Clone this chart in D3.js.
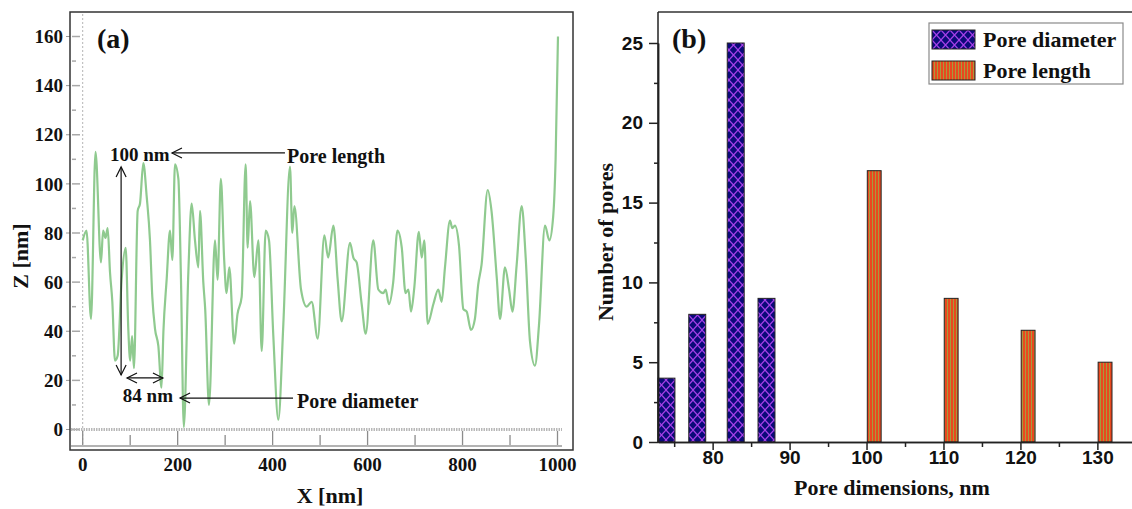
<!DOCTYPE html>
<html>
<head>
<meta charset="utf-8">
<script src="https://cdn.jsdelivr.net/npm/d3@7"></script>
<style>
  body { margin: 0; background: #fff; }
  svg { display: block; }
  text { font-family: "Liberation Serif", "Times New Roman", serif; font-weight: bold; fill: #111; }
</style>
</head>
<body>
<svg id="chart" width="1132" height="509"></svg>
<script>
// (a) AFM height profile
const profileX = [0, 8, 17.5, 27, 38.5, 43, 48, 52.6, 57.5, 62.4, 68, 73.6, 82, 90.5, 96, 100, 104, 108,
  115.8, 120.7, 127.7, 134.7, 141.7, 146.6, 152.3, 159.3, 166, 170, 176.8, 183.9, 188.8, 194.4, 201.5, 207, 213,
  222.5, 229.5, 236.5, 243.6, 247, 254, 258, 266, 278.7, 284, 291, 298, 303, 308.8, 319, 326, 334.8, 343.2,
  347.4, 352.4, 361.5, 370, 377, 385.4, 392.4, 401.5, 412, 422.6, 436.6, 441.5, 445.8, 459.8, 471.8, 482.3,
  495, 509, 517, 528, 537, 545.4, 563, 570, 577, 587.6, 596, 612, 622.6, 633, 638, 645, 654, 663, 672, 680,
  686, 691.5, 698.5, 708, 714, 719.5, 726.5, 738.5, 749, 756, 763, 773.6, 778.5, 784, 792.5, 801.7, 808.7,
  817.8, 826, 833, 840, 853, 861, 872, 879, 889.4, 898, 905, 914, 924.6, 933, 942, 952.6, 961, 973.7, 982.8,
  991, 996, 1001];
const profileZ = [77, 81, 45, 113, 68, 81, 78, 82, 64, 52, 28, 30, 61, 74, 41, 28, 38, 25,
  89, 92, 108.5, 95, 77, 54, 41, 34, 17, 40, 61, 81, 69, 108, 102, 61, 1,
  64, 92, 77, 66, 89, 60, 49, 10, 77, 61, 102, 69, 55.5, 66, 35, 47, 54, 108,
  74, 93, 62, 77, 32, 81, 77, 38, 4, 43, 107, 80, 91, 57, 50, 52,
  37, 79, 70, 83, 61, 44, 76, 70, 68, 51, 39, 77, 57, 55.5, 57, 51, 60, 81, 74, 55.5,
  57, 48, 58, 80.5, 70, 77, 43, 51, 57, 52, 66, 85, 82, 83, 75, 49, 48,
  40.5, 45, 59, 67, 97.5, 89, 62, 45, 66, 57, 48, 67, 91, 70, 36, 26, 42.5, 83, 77,
  87, 110, 160];
const zTicks = [0, 20, 40, 60, 80, 100, 120, 140, 160];
const xTicks = [0, 200, 400, 600, 800, 1000];

// (b) pore histogram
const diameterBins = [74, 78, 83, 87];
const diameterCounts = [4, 8, 25, 9];
const lengthBins = [101, 111, 121, 131];
const lengthCounts = [17, 9, 7, 5];
const countTicks = [0, 5, 10, 15, 20, 25];
const dimTicks = [80, 90, 100, 110, 120, 130];
const legendLabels = ["Pore diameter", "Pore length"];

const svg = d3.select("#chart");
const defs = svg.append("defs");

// open chevron arrow head
defs.append("marker")
    .attr("id", "chev")
    .attr("viewBox", "-12 -7 14 14")
    .attr("refX", 0).attr("refY", 0)
    .attr("markerWidth", 14).attr("markerHeight", 14)
    .attr("markerUnits", "userSpaceOnUse")
    .attr("orient", "auto-start-reverse")
    .append("path")
    .attr("d", "M-10,-5 L0,0 L-10,5")
    .attr("fill", "none")
    .attr("stroke", "#111")
    .attr("stroke-width", 1.2);

// crosshatch for diameter bars
const hatch = defs.append("pattern").attr("id", "hatch")
    .attr("patternUnits", "userSpaceOnUse").attr("width", 9).attr("height", 10);
hatch.append("rect").attr("width", 9).attr("height", 10).attr("fill", "#0b0a7a");
hatch.append("path").attr("d", "M0,0 L9,10 M9,0 L0,10")
    .attr("stroke", "#a53fe8").attr("stroke-width", 1.2);

// vertical stripes for length bars
const stripes = defs.append("pattern").attr("id", "stripes")
    .attr("patternUnits", "userSpaceOnUse").attr("width", 3).attr("height", 4);
stripes.append("rect").attr("width", 3).attr("height", 4).attr("fill", "#e9481f");
stripes.append("rect").attr("x", 2).attr("width", 1).attr("height", 4).attr("fill", "#a89a3c");

// ---------- panel (a) ----------
const a = svg.append("g");
const xA = d3.scaleLinear().domain([0, 1000]).range([82.7, 557.5]);
const zA = d3.scaleLinear().domain([0, 160]).range([429.5, 36.5]);

// dotted guide at x = 0
a.append("line")
    .attr("x1", xA(0)).attr("x2", xA(0))
    .attr("y1", 14).attr("y2", 446)
    .attr("stroke", "#b4b4b4").attr("stroke-dasharray", "2,2");

// inner z ticks
a.selectAll(".zmin").data(zA.ticks(16)).join("line")
    .attr("x1", 72).attr("x2", d => d % 20 ? 76 : 80)
    .attr("y1", d => zA(d)).attr("y2", d => zA(d))
    .attr("stroke", "#a8a8a8").attr("stroke-width", 1.5);
a.selectAll(".zout").data(zTicks).join("line")
    .attr("x1", 66).attr("x2", 70)
    .attr("y1", d => zA(d)).attr("y2", d => zA(d))
    .attr("stroke", "#999");

// z = 0 band and lower rail
a.append("line")
    .attr("x1", 71).attr("x2", 562)
    .attr("y1", zA(0)).attr("y2", zA(0))
    .attr("stroke", "#b8b8b8").attr("stroke-width", 3).attr("stroke-dasharray", "1.5,1");
a.append("line")
    .attr("x1", 71).attr("x2", 562)
    .attr("y1", 446).attr("y2", 446)
    .attr("stroke", "#9a9a9a").attr("stroke-width", 1.5);

// x ticks hanging below the band
a.selectAll(".xt").data(xA.ticks(10)).join("line")
    .attr("x1", d => xA(d)).attr("x2", d => xA(d))
    .attr("y1", d => d % 200 ? 435 : 431).attr("y2", 445)
    .attr("stroke", "#8c8c8c").attr("stroke-width", 1.3);

// frame
a.append("rect")
    .attr("x", 70).attr("y", 12).attr("width", 503).attr("height", 438)
    .attr("fill", "none").attr("stroke", "#333").attr("stroke-width", 1.5);

// tick labels
a.selectAll(".zl").data(zTicks).join("text")
    .attr("x", 63).attr("y", d => zA(d)).attr("dy", "0.35em")
    .attr("text-anchor", "end").attr("font-size", 19)
    .text(d => d);
a.selectAll(".xl").data(xTicks).join("text")
    .attr("x", d => xA(d)).attr("y", 471)
    .attr("text-anchor", "middle").attr("font-size", 19)
    .text(d => d);

// profile line
const line = d3.line()
    .x((d, i) => xA(profileX[i]))
    .y(d => zA(d))
    .curve(d3.curveMonotoneX);
a.append("path")
    .datum(profileZ)
    .attr("d", line)
    .attr("fill", "none")
    .attr("stroke", "#8fca8f")
    .attr("stroke-width", 2.2)
    .attr("stroke-linejoin", "round");

// axis titles
a.append("text").attr("x", 330).attr("y", 503)
    .attr("text-anchor", "middle").attr("font-size", 22).text("X [nm]");
a.append("text").attr("transform", "translate(28,256) rotate(-90)")
    .attr("text-anchor", "middle").attr("font-size", 22).text("Z [nm]");
a.append("text").attr("x", 97).attr("y", 48).attr("font-size", 28).text("(a)");

// annotations
const arrow = (x1, z1, x2, z2, both) => a.append("line")
    .attr("x1", xA(x1)).attr("y1", zA(z1))
    .attr("x2", xA(x2)).attr("y2", zA(z2))
    .attr("stroke", "#111").attr("stroke-width", 1.2)
    .attr("marker-end", "url(#chev)")
    .attr("marker-start", both ? "url(#chev)" : null);

arrow(426, 112.6, 188, 112.6, false);
arrow(80.9, 106.9, 80.9, 22.2, true);
arrow(93.3, 21, 169, 21, true);
arrow(443, 12.8, 205, 12.8, false);

a.append("text").attr("x", xA(57.5)).attr("y", zA(109.3)).attr("font-size", 19).text("100 nm");
a.append("text").attr("x", xA(430.5)).attr("y", zA(108.5)).attr("font-size", 20).text("Pore length");
a.append("text").attr("x", xA(84.5)).attr("y", zA(11.3)).attr("font-size", 19).text("84 nm");
a.append("text").attr("x", xA(451.5)).attr("y", zA(8.7)).attr("font-size", 20).text("Pore diameter");

// ---------- panel (b) ----------
const b = svg.append("g");
const xB = d3.scaleLinear().domain([72.9, 134.5]).range([658, 1132]);
const yB = d3.scaleLinear().domain([0, 25]).range([442, 43]);

b.selectAll(".dia").data(diameterBins).join("rect")
    .attr("x", d => xB(d - 1.1))
    .attr("width", xB(74.0) - xB(71.8))
    .attr("y", (d, i) => yB(diameterCounts[i]))
    .attr("height", (d, i) => yB(0) - yB(diameterCounts[i]))
    .attr("fill", "url(#hatch)")
    .attr("stroke", "#222").attr("stroke-width", 1);

b.selectAll(".len").data(lengthBins).join("rect")
    .attr("x", d => xB(d - 0.9))
    .attr("width", xB(74.7) - xB(72.9))
    .attr("y", (d, i) => yB(lengthCounts[i]))
    .attr("height", (d, i) => yB(0) - yB(lengthCounts[i]))
    .attr("fill", "url(#stripes)")
    .attr("stroke", "#222").attr("stroke-width", 1);

// axes
const styleAxis = g => {
    g.select(".domain").attr("stroke", "#222").attr("stroke-width", 1.5);
    g.selectAll(".tick line").attr("stroke", "#222").attr("stroke-width", 1.5);
    g.selectAll(".tick text")
        .attr("fill", "#111")
        .style("font-family", "'Liberation Sans', Arial, sans-serif")
        .style("font-weight", "bold")
        .style("font-size", "19px");
};

b.append("g")
    .attr("transform", "translate(0,442)")
    .call(d3.axisBottom(xB).tickValues(dimTicks.map(d => d - 5).concat([135]).filter(d => d > 73)).tickSize(5).tickSizeOuter(0).tickFormat(""))
    .call(styleAxis);
b.append("g")
    .attr("transform", "translate(0,442)")
    .call(d3.axisBottom(xB).tickValues(dimTicks).tickSize(8).tickSizeOuter(0).tickPadding(1).tickFormat(d3.format("d")))
    .call(styleAxis);

b.append("g")
    .attr("transform", "translate(658,0)")
    .call(d3.axisLeft(yB).tickValues(countTicks.slice(0, -1).map(d => d + 2.5)).tickSize(4).tickSizeOuter(0).tickFormat(""))
    .call(styleAxis);
b.append("g")
    .attr("transform", "translate(658,0)")
    .call(d3.axisLeft(yB).tickValues(countTicks).tickSize(9).tickSizeOuter(0).tickPadding(6).tickFormat(d3.format("d")))
    .call(styleAxis);

// frame top and left
b.append("line").attr("x1", 658).attr("x2", 1132).attr("y1", 12).attr("y2", 12)
    .attr("stroke", "#333").attr("stroke-width", 1.5);
b.append("line").attr("x1", 658).attr("x2", 658).attr("y1", 12).attr("y2", 442)
    .attr("stroke", "#222").attr("stroke-width", 1.5);

// titles
b.append("text").attr("x", 892).attr("y", 495)
    .attr("text-anchor", "middle").attr("font-size", 22).text("Pore dimensions, nm");
b.append("text").attr("transform", "translate(613,242) rotate(-90)")
    .attr("text-anchor", "middle").attr("font-size", 22).text("Number of pores");
b.append("text").attr("x", 672).attr("y", 48).attr("font-size", 28).text("(b)");

// legend
const legend = b.append("g").attr("transform", "translate(929,23)");
legend.append("rect").attr("width", 194).attr("height", 61)
    .attr("fill", "#fff").attr("stroke", "#8a8a8a").attr("stroke-width", 1.2);
const items = legend.selectAll(".item").data(legendLabels).join("g")
    .attr("transform", (d, i) => `translate(3,${7 + i * 31})`);
items.append("rect").attr("width", 43).attr("height", 19)
    .attr("fill", (d, i) => i ? "url(#stripes)" : "url(#hatch)")
    .attr("stroke", "#222").attr("stroke-width", 1);
items.append("text").attr("x", 51).attr("y", 17).attr("font-size", 22).text(d => d);
</script>
</body>
</html>
